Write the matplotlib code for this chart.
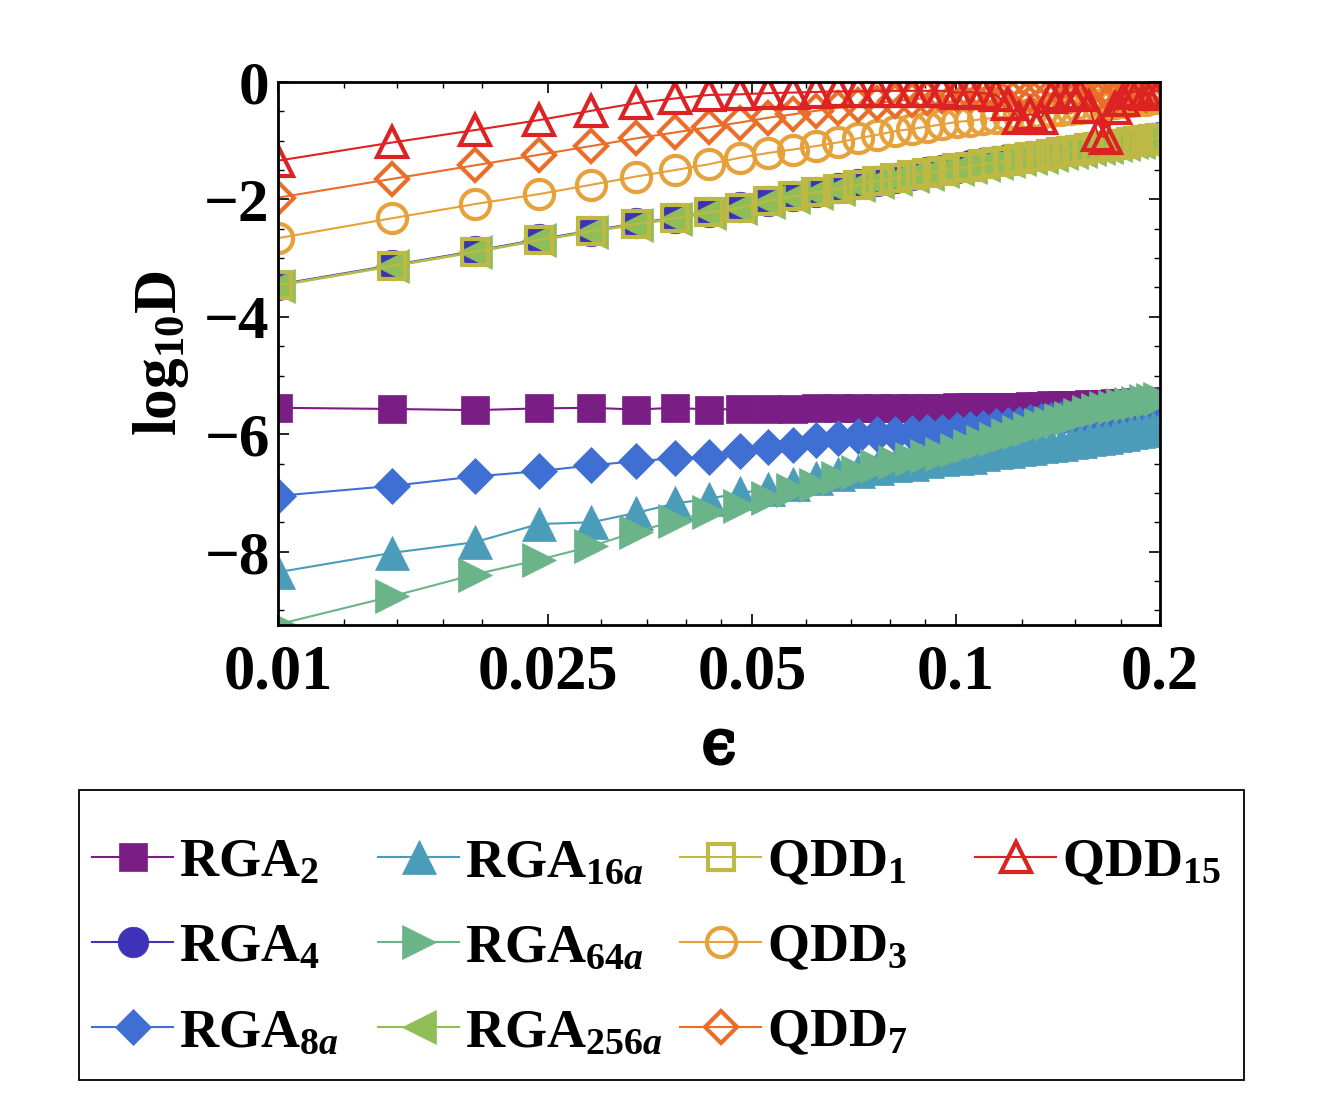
import matplotlib
matplotlib.use("Agg")
import matplotlib.pyplot as plt
import matplotlib.patheffects as pe
from matplotlib.ticker import MultipleLocator, NullFormatter, FixedLocator
from matplotlib.patches import Rectangle

plt.rcParams['font.family'] = ['Liberation Serif', 'DejaVu Serif']
plt.rcParams['font.weight'] = 'bold'
plt.rcParams['mathtext.fontset'] = 'custom'
plt.rcParams['mathtext.rm'] = 'Liberation Serif:bold'
plt.rcParams['mathtext.bf'] = 'Liberation Serif:bold'
plt.rcParams['mathtext.it'] = 'Liberation Serif:italic:bold'

# epsilon grid
eps = [0.01, 0.01475, 0.0195, 0.02425, 0.029, 0.03375, 0.0385, 0.04325, 0.048, 0.05275,
       0.0575, 0.06225, 0.067, 0.07175, 0.0765, 0.08125, 0.086, 0.09075, 0.0955, 0.10025,
       0.105, 0.10975, 0.1145, 0.11925, 0.124, 0.12875, 0.1335, 0.13825, 0.143, 0.14775,
       0.1525, 0.15725, 0.162, 0.16675, 0.1715, 0.17625, 0.181, 0.18575, 0.1905, 0.19525, 0.2]

# log10 D for each sequence
rga2 = [-5.55, -5.57, -5.59, -5.56, -5.55, -5.58, -5.55, -5.58, -5.57, -5.57,
        -5.57, -5.56, -5.56, -5.56, -5.56, -5.55, -5.55, -5.55, -5.55, -5.54,
        -5.54, -5.54, -5.53, -5.53, -5.53, -5.52, -5.52, -5.51, -5.51, -5.50,
        -5.50, -5.49, -5.49, -5.48, -5.47, -5.47, -5.46, -5.45, -5.45, -5.44, -5.43]
rga4 = [-3.45, -3.12, -2.88, -2.68, -2.53, -2.41, -2.31, -2.21, -2.13, -2.02,
        -1.94, -1.87, -1.81, -1.74, -1.68, -1.63, -1.58, -1.54, -1.50, -1.46,
        -1.42, -1.38, -1.35, -1.32, -1.29, -1.26, -1.24, -1.21, -1.18, -1.16,
        -1.14, -1.11, -1.09, -1.07, -1.05, -1.03, -1.00, -0.99, -0.97, -0.95, -0.93]
rga8a = [-7.05, -6.88, -6.72, -6.63, -6.53, -6.46, -6.41, -6.39, -6.29, -6.21,
         -6.18, -6.10, -6.06, -6.03, -6.00, -5.99, -5.98, -5.97, -5.96, -5.93,
         -5.91, -5.89, -5.86, -5.84, -5.82, -5.80, -5.78, -5.76, -5.74, -5.72,
         -5.70, -5.68, -5.66, -5.64, -5.62, -5.60, -5.58, -5.57, -5.55, -5.54, -5.52]
rga16a = [-8.35, -8.02, -7.84, -7.53, -7.50, -7.34, -7.18, -7.10, -7.00, -6.94,
          -6.84, -6.74, -6.67, -6.62, -6.57, -6.53, -6.50, -6.46, -6.43, -6.40,
          -6.38, -6.34, -6.31, -6.28, -6.25, -6.23, -6.20, -6.18, -6.16, -6.13,
          -6.11, -6.09, -6.07, -6.05, -6.02, -5.99, -5.96, -5.94, -5.92, -5.89, -5.87]
rga64a = [-9.24, -8.76, -8.39, -8.14, -7.91, -7.66, -7.48, -7.32, -7.23, -7.09,
          -6.95, -6.86, -6.75, -6.64, -6.54, -6.48, -6.42, -6.37, -6.33, -6.27,
          -6.20, -6.14, -6.08, -6.02, -5.96, -5.91, -5.85, -5.81, -5.76, -5.72,
          -5.67, -5.63, -5.59, -5.56, -5.53, -5.50, -5.48, -5.46, -5.44, -5.42, -5.40]
rga256a = [-3.47, -3.14, -2.90, -2.70, -2.55, -2.43, -2.33, -2.23, -2.15, -2.04,
           -1.96, -1.89, -1.83, -1.76, -1.70, -1.65, -1.60, -1.56, -1.52, -1.48,
           -1.45, -1.41, -1.38, -1.35, -1.32, -1.29, -1.27, -1.24, -1.21, -1.19,
           -1.17, -1.14, -1.12, -1.10, -1.08, -1.06, -1.03, -1.02, -1.00, -0.98, -0.96]
qdd1 = [-3.46, -3.13, -2.89, -2.69, -2.54, -2.42, -2.32, -2.22, -2.14, -2.03,
        -1.95, -1.88, -1.82, -1.75, -1.69, -1.64, -1.59, -1.55, -1.51, -1.47,
        -1.44, -1.40, -1.37, -1.34, -1.31, -1.28, -1.26, -1.23, -1.20, -1.18,
        -1.16, -1.13, -1.11, -1.09, -1.07, -1.05, -1.02, -1.01, -0.99, -0.97, -0.95]
qdd3 = [-2.66, -2.32, -2.08, -1.91, -1.75, -1.61, -1.50, -1.40, -1.29, -1.21,
        -1.15, -1.09, -1.03, -0.96, -0.90, -0.84, -0.80, -0.76, -0.72, -0.68,
        -0.66, -0.63, -0.61, -0.58, -0.56, -0.54, -0.52, -0.50, -0.48, -0.46,
        -0.44, -0.42, -0.40, -0.38, -0.36, -0.34, -0.33, -0.31, -0.30, -0.28, -0.27]
qdd7 = [-1.97, -1.65, -1.42, -1.24, -1.09, -0.96, -0.86, -0.77, -0.69, -0.61,
        -0.55, -0.49, -0.44, -0.40, -0.36, -0.32, -0.30, -0.27, -0.24, -0.22,
        -0.21, -0.20, -0.19, -0.21, -0.18, -0.22, -0.17, -0.20, -0.16, -0.23,
        -0.18, -0.15, -0.21, -0.17, -0.24, -0.16, -0.19, -0.14, -0.22, -0.15, -0.17]
qdd15 = [-1.34, -1.03, -0.82, -0.65, -0.49, -0.36, -0.28, -0.22, -0.21, -0.19,
         -0.18, -0.17, -0.16, -0.16, -0.15, -0.15, -0.15, -0.15, -0.15, -0.18,
         -0.17, -0.19, -0.22, -0.38, -0.62, -0.55, -0.62, -0.25, -0.20, -0.18,
         -0.22, -0.42, -0.90, -0.95, -0.45, -0.30, -0.18, -0.15, -0.20, -0.16, -0.14]

labels = [r'$\mathrm{RGA}_{2}$', r'$\mathrm{RGA}_{4}$', r'$\mathrm{RGA}_{8a}$',
          r'$\mathrm{RGA}_{16a}$', r'$\mathrm{RGA}_{64a}$', r'$\mathrm{RGA}_{256a}$',
          r'$\mathrm{QDD}_{1}$', r'$\mathrm{QDD}_{3}$', r'$\mathrm{QDD}_{7}$', r'$\mathrm{QDD}_{15}$']
colors = ['#7a1d84', '#3d32b8', '#3f6fd2', '#4a9cb8', '#6bb489', '#8fbe58',
          '#bdb944', '#e6a13a', '#e86e2a', '#dc2222']
markers = ['s', 'o', 'D', '^', '>', '<', 's', 'o', 'D', '^']
sizes = [20, 22, 18, 25, 25, 25, 19, 21, 16, 21]
filled = [True, True, True, True, True, True, False, False, False, False]
series = [rga2, rga4, rga8a, rga16a, rga64a, rga256a, qdd1, qdd3, qdd7, qdd15]

fig = plt.figure(figsize=(13.23, 10.93), dpi=100)
ax = fig.add_axes([278 / 1323, 1 - 625 / 1093, 882 / 1323, 543 / 1093])

lines = []
for vals, lab, col, mk, ms, fl in zip(series, labels, colors, markers, sizes, filled):
    if fl:
        ln, = ax.plot(eps, vals, color=col, lw=1.5, marker=mk, ms=ms, mfc=col, mec=col,
                      mew=0.5, label=lab)
    else:
        ln, = ax.plot(eps, vals, color=col, lw=1.5, marker=mk, ms=ms, mfc='none', mec=col,
                      mew=3, label=lab)
    lines.append(ln)

ax.set_xscale('log')
ax.set_xlim(0.01, 0.2)
ax.set_ylim(-9.25, 0)
ax.xaxis.set_major_locator(FixedLocator([0.01, 0.025, 0.05, 0.1, 0.2]))
ax.set_xticklabels(['0.01', '0.025', '0.05', '0.1', '0.2'])
ax.xaxis.set_minor_locator(FixedLocator([0.0125, 0.015, 0.0175, 0.02, 0.03, 0.035, 0.04,
                                         0.045, 0.06, 0.07, 0.08, 0.09, 0.125, 0.15, 0.175]))
ax.xaxis.set_minor_formatter(NullFormatter())
ax.set_yticks([0, -2, -4, -6, -8])
ax.yaxis.set_minor_locator(MultipleLocator(0.5))
ax.tick_params(which='both', direction='in', top=True, right=True)
ax.tick_params(axis='x', labelsize=45, pad=14)
ax.tick_params(axis='y', labelsize=44, pad=6)
ax.tick_params(which='major', length=8, width=1.2)
ax.tick_params(which='minor', length=4, width=1.0)
for sp in ax.spines.values():
    sp.set_linewidth(2)

ax.set_xlabel('ϵ', fontsize=44, fontfamily=['DejaVu Serif'],
              path_effects=[pe.withStroke(linewidth=2.5, foreground='black')])
ax.xaxis.set_label_coords(0.5, -0.254)
ax.xaxis.label.set_va('baseline')
ax.set_ylabel(r'$\mathrm{log}_{10}\mathrm{D}$', fontsize=44)
ax.yaxis.set_label_coords(-0.099, 0.5)

# legend: frame plus one column legend per group
fig.add_artist(Rectangle((79 / 1323, 13 / 1093), 1165 / 1323, 290 / 1093,
                         transform=fig.transFigure, fill=False, ec='black', lw=1.3))
col_x = [92, 378, 680, 975]
groups = [lines[0:3], lines[3:6], lines[6:9], lines[9:10]]
for x0, grp in zip(col_x, groups):
    leg = fig.legend(grp, [g.get_label() for g in grp], loc='upper left',
                     bbox_to_anchor=(x0 / 1323, 1 - 838 / 1093), ncol=1, frameon=False,
                     fontsize=39, handlelength=1.5, handletextpad=0.1,
                     labelspacing=0.65, borderpad=0, borderaxespad=0)

fig.savefig('out.png', dpi=100)
